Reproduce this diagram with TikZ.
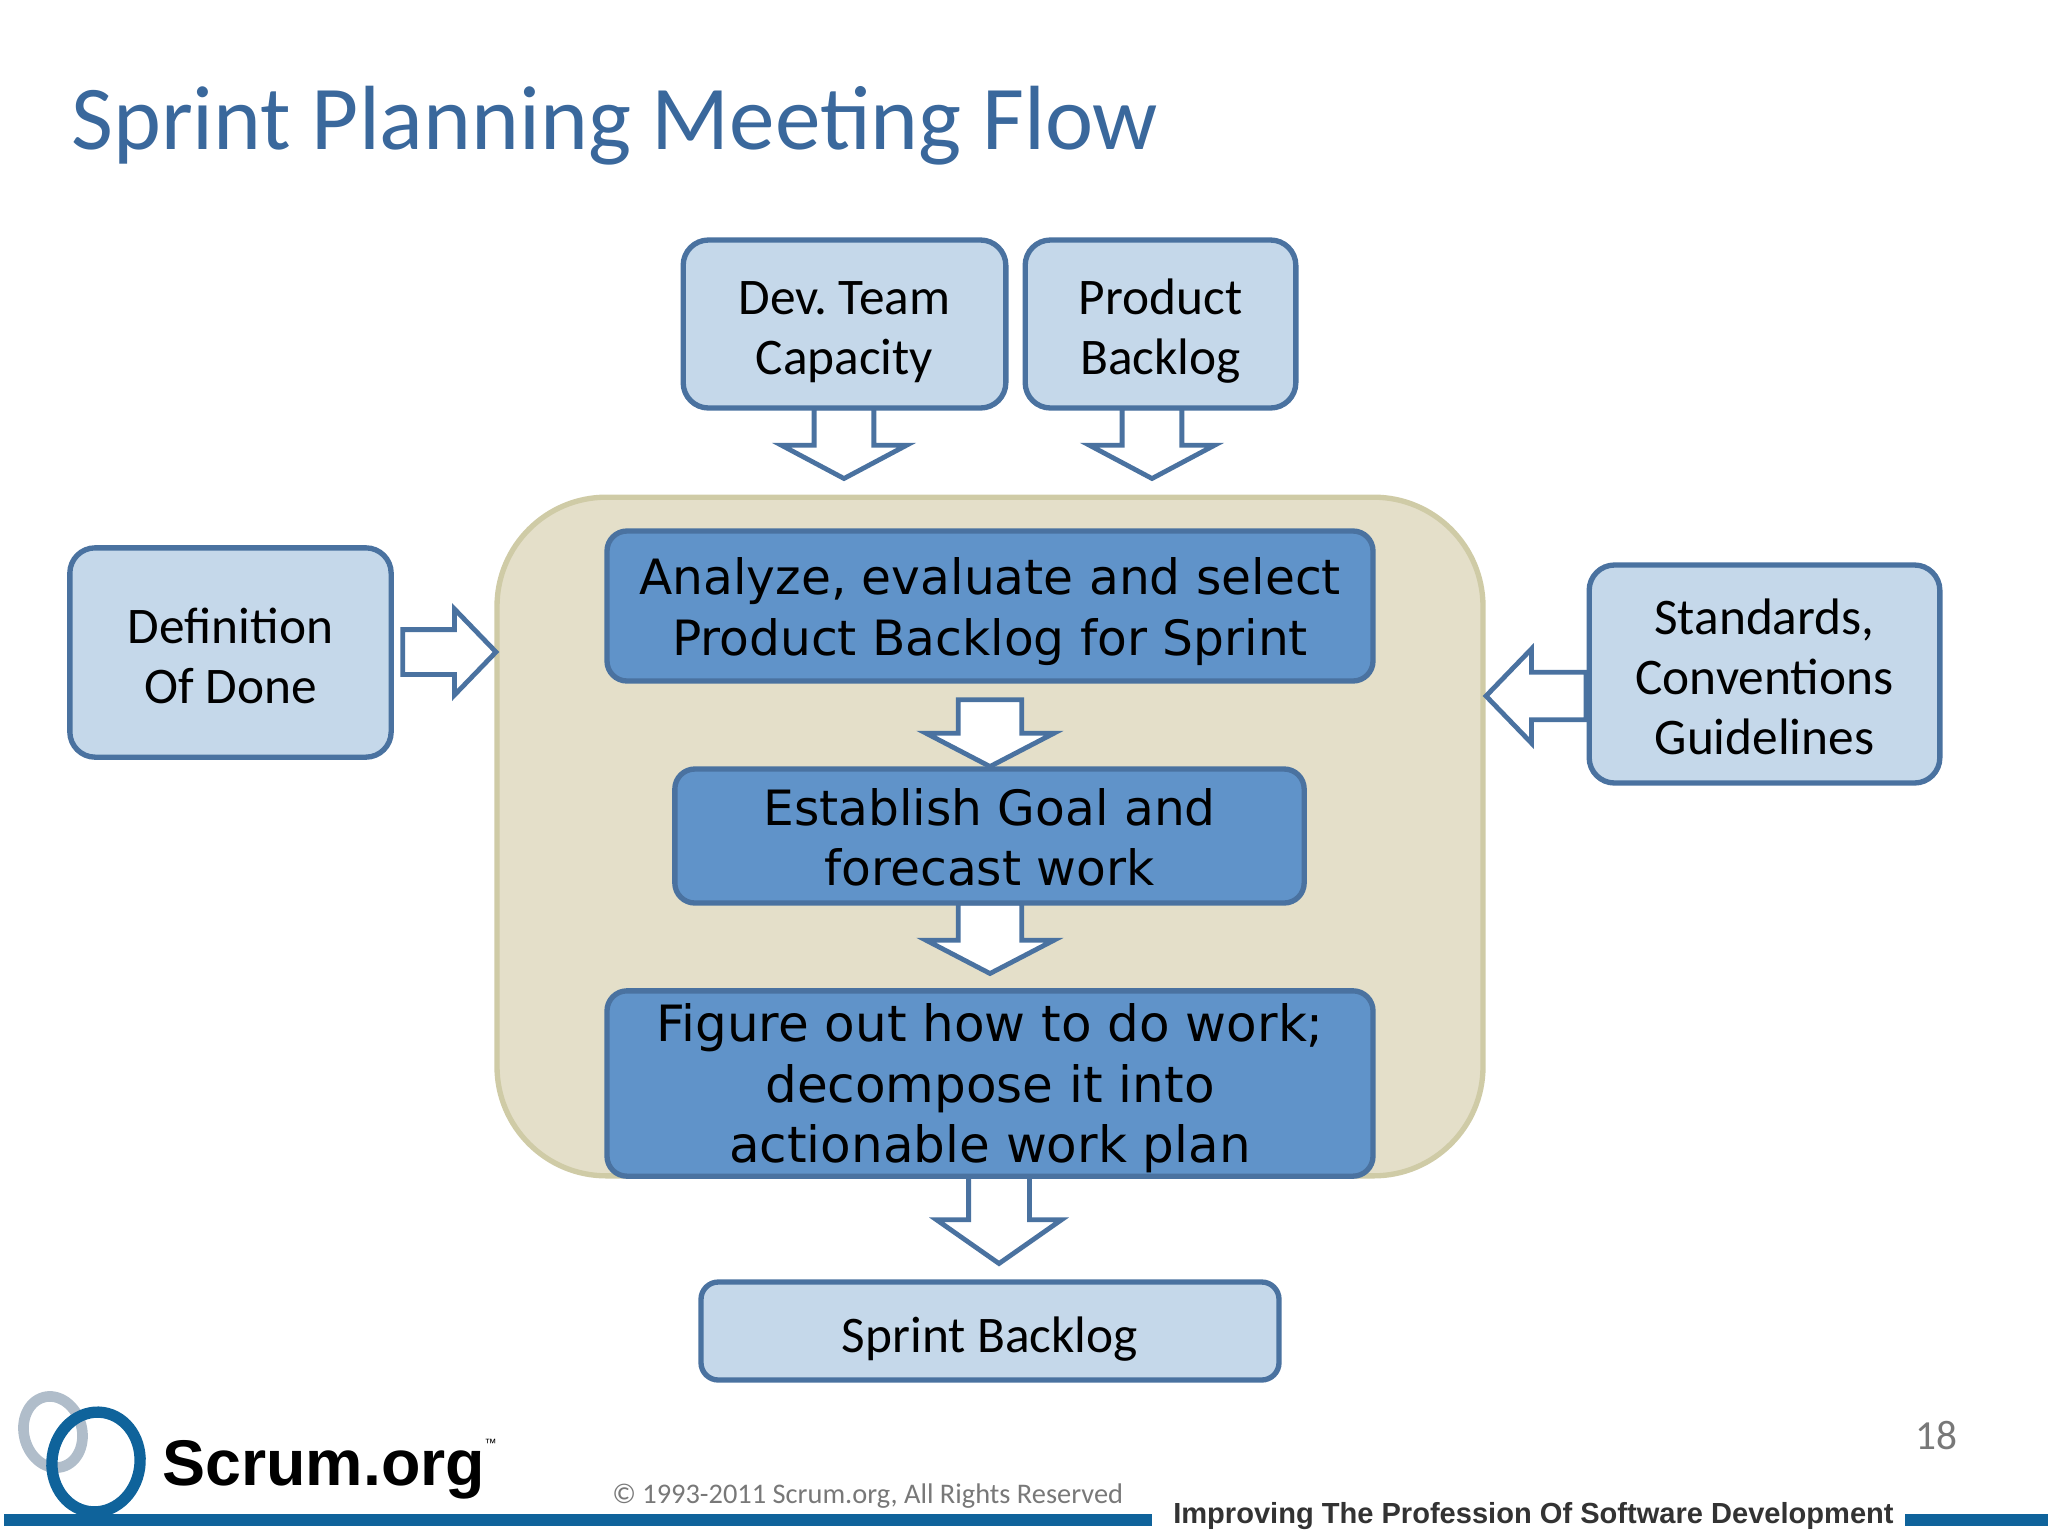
\documentclass[tikz,border=0pt]{standalone}
\usepackage{fontspec}
\setmainfont{Carlito}
\newfontfamily\stepfont{DejaVu Sans}
\newfontfamily\logofont{Liberation Sans}
\usepackage{tikz}
\usetikzlibrary{shapes}
\usetikzlibrary{shapes.arrows}

\definecolor{slideblue}{RGB}{58,104,156}
\definecolor{edgeblue}{RGB}{74,114,160}
\definecolor{lightfill}{RGB}{197,216,234}
\definecolor{darkfill}{RGB}{96,147,201}
\definecolor{sandfill}{RGB}{228,223,201}
\definecolor{sandedge}{RGB}{207,203,166}
\definecolor{railblue}{RGB}{15,99,155}
\definecolor{footgrey}{RGB}{120,120,120}

\newcommand{\dropline}[1]{\rule{0pt}{#1}}

\tikzset{
  inputbox/.style={draw=edgeblue,fill=lightfill,line width=4pt,rounded corners=19pt,align=center,inner sep=0pt,outer sep=0pt,font=\fontsize{38.5}{45}\selectfont\frenchspacing},
  stepbox/.style={draw=edgeblue,fill=darkfill,line width=4pt,rounded corners=15pt,align=center,inner sep=0pt,outer sep=0pt,font=\stepfont\fontsize{36.5}{45.5}\selectfont},
  blockarrow/.style n args={4}{single arrow,draw=edgeblue,fill=white,line width=3.6pt,inner xsep=#2,inner ysep=0pt,outer sep=0pt,anchor=tip,minimum height=#1,single arrow head extend=#3,single arrow tip angle=#4},
  sidearrow/.style={inner xsep=0pt,inner ysep=#1},
}

\begin{document}
\begin{tikzpicture}[x=0.75pt,y=0.75pt,yscale=-1,xscale=1]
\useasboundingbox (0,0) rectangle (2048,1536);

% Text Node
\draw (71,149) node (title) [anchor=base west][inner sep=0pt][text=slideblue][font=\fontsize{68.4}{68}\selectfont] {Sprint Planning Meeting Flow};

% Shape: Rounded rect
\node (meeting) [draw=sandedge,fill=sandfill,line width=4pt,rounded corners=82pt,minimum width=739.5pt,minimum height=509pt,inner sep=0pt] at (990,836.5) {};

% Shape: Block arrows
\node (capacityarrow) [blockarrow={53pt}{20.6pt}{24.5pt}{124},shape border rotate=270] at (844,478.5) {};
\node (backlogarrow) [blockarrow={53pt}{20.6pt}{24.5pt}{124},shape border rotate=270] at (1152,478.5) {};
\node (donearrow) [blockarrow={70pt}{15pt}{15.5pt}{92},sidearrow=15pt,shape border rotate=0] at (496,652) {};
\node (standardsarrow) [blockarrow={75pt}{16pt}{17.5pt}{92},sidearrow=16pt,shape border rotate=180] at (1486,696) {};
\node (analyzearrow) [blockarrow={50pt}{22pt}{24pt}{125},shape border rotate=270] at (990,766.5) {};
\node (goalarrow) [blockarrow={53pt}{22pt}{24pt}{125},shape border rotate=270] at (990,973.5) {};
\node (figurearrow) [blockarrow={66pt}{21pt}{24pt}{110},shape border rotate=270] at (999,1263.5) {};

% Input boxes
\node (capacity) [inputbox,minimum width=242pt,minimum height=126pt] at (844.5,324) {\dropline{37pt}Dev. Team\\Capacity};
\node (backlog) [inputbox,minimum width=203pt,minimum height=126pt] at (1160.5,324) {\dropline{37pt}Product\\Backlog};
\node (done) [inputbox,minimum width=241pt,minimum height=157pt] at (230.5,652.5) {\dropline{31pt}Definition\\Of Done};
\node (standards) [inputbox,minimum width=263pt,minimum height=163.5pt] at (1764.5,674) {\dropline{31pt}Standards,\\Conventions\\Guidelines};
\node (sprintbacklog) [inputbox,rounded corners=13pt,minimum width=433.5pt,minimum height=73.5pt] at (990,1331) {\dropline{38.5pt}Sprint Backlog};

% Step boxes
\node (analyze) [stepbox,minimum width=574.5pt,minimum height=112.5pt] at (990,606) {\dropline{36pt}Analyze, evaluate and select\\Product Backlog for Sprint};
\node (goal) [stepbox,minimum width=472pt,minimum height=100.5pt] at (989.5,836) {\dropline{29.5pt}Establish Goal and\\forecast work};
\node (figure) [stepbox,font=\stepfont\fontsize{37.5}{45.5}\selectfont,minimum width=574.5pt,minimum height=139pt] at (990,1083.5) {\dropline{36pt}Figure out how to do work;\\decompose it into\\actionable work plan};

% Footer rails
\fill [railblue] (4,1514) rectangle (1152,1526);
\fill [railblue] (1905,1514) rectangle (2048,1526);

% Logo
\draw [color=lightfill!70!gray,line width=8pt,rotate around={-15:(53,1432)}] (53,1432) ellipse (29 and 36);
\draw [color=railblue,line width=8.5pt,rotate around={8:(96,1462)}] (96,1462) ellipse (44 and 50);

% Text Node
\draw (162,1485) node (logotext) [anchor=base west][inner sep=0pt][font=\logofont\bfseries\fontsize{48.4}{48}\selectfont] {Scrum.org};
% Text Node
\draw (497,1447) node (trademark) [anchor=base east][inner sep=0pt][font=\logofont\fontsize{9}{9}\selectfont] {™};
% Text Node
\draw (612,1503) node (copyright) [anchor=base west][inner sep=0pt][text=footgrey][font=\fontsize{21.3}{22}\selectfont] {© 1993-2011 Scrum.org, All Rights Reserved};
% Text Node
\draw (1173,1523) node (motto) [anchor=base west][inner sep=0pt][text=black!80][font=\logofont\bfseries\fontsize{21.8}{22}\selectfont] {Improving The Profession Of Software Development};
% Text Node
\draw (1915,1449) node (pagenumber) [anchor=base west][inner sep=0pt][text=footgrey][font=\fontsize{31}{31}\selectfont] {18};

\end{tikzpicture}
\end{document}
